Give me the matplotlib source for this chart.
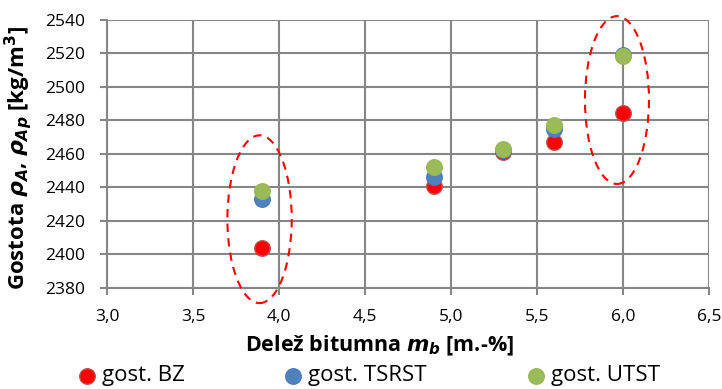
import matplotlib
matplotlib.use("Agg")
import matplotlib.pyplot as plt
from matplotlib.patches import Ellipse

mb = [3.9, 4.9, 5.3, 5.6, 6.0]
gost_bz = [2404, 2441, 2461, 2467, 2484]
gost_tsrst = [2433, 2446, 2462, 2475, 2519]
gost_utst = [2438, 2452, 2463, 2477, 2518]
series_labels = ["gost. BZ", "gost. TSRST", "gost. UTST"]
xticks = [3.0, 3.5, 4.0, 4.5, 5.0, 5.5, 6.0, 6.5]
yticks = [2380, 2400, 2420, 2440, 2460, 2480, 2500, 2520, 2540]
# ellipses: (center x, center y, width, height)
ellipses = [(3.887, 2421, 0.374, 100), (5.965, 2492, 0.372, 100)]

plt.rcParams['font.family'] = ['Open Sans', 'DejaVu Sans']
plt.rcParams['mathtext.fontset'] = 'custom'
plt.rcParams['mathtext.rm'] = 'DejaVu Sans:bold'
plt.rcParams['mathtext.it'] = 'DejaVu Sans:italic:bold'
plt.rcParams['mathtext.bf'] = 'DejaVu Sans:bold'

W, H = 722, 389
L, R, T, B = 107, 709, 19.5, 288
fig = plt.figure(figsize=(W/100, H/100), dpi=100)
ax = fig.add_axes([L/W, 1-B/H, (R-L)/W, (B-T)/H])
aw, ah = R-L, B-T

colors = ['#FF0000', '#4F81BD', '#9BBB59']
edges = ['#C0504D', '#4A7EBB', '#98B954']
for ys, c, e, lab in zip([gost_bz, gost_tsrst, gost_utst], colors, edges, series_labels):
    ax.scatter(mb, ys, s=125, color=c, edgecolors=e, linewidths=1.0, label=lab, zorder=3)

for cx, cy, w, h in ellipses:
    ax.add_patch(Ellipse((cx, cy), w, h, fill=False, edgecolor='#FF0000', lw=1.5,
                         ls=(0, (4, 3)), clip_on=False, zorder=4))

ax.set_xlim(3.0, 6.5)
ax.set_ylim(2380, 2540)
ax.set_xticks(xticks)
ax.set_yticks(yticks)
ax.set_xticklabels([f"{v:.1f}".replace('.', ',') for v in xticks])
ax.set_yticklabels([str(v) for v in yticks])
ax.grid(True, color='#868686', lw=1.5)
ax.set_axisbelow(True)
for s in ['top', 'right']:
    ax.spines[s].set_visible(False)
for s in ['left', 'bottom']:
    ax.spines[s].set_color('#868686')
    ax.spines[s].set_linewidth(1.5)
ax.tick_params(axis='both', direction='out', length=5, width=1.5, color='#868686',
               labelsize=12.5, labelcolor='black')
ax.tick_params(axis='x', pad=10)
ax.tick_params(axis='y', pad=11)

ax.set_xlabel(r"Delež bitumna $m_b$ [m.-%]", fontsize=15.5, fontweight='bold')
ax.xaxis.set_label_coords((380-L)/aw, -(334-B)/ah, transform=ax.transAxes)
ax.set_ylabel(r"Gostota $\rho_A$, $\rho_{Ap}$ [kg/m$^3$]", fontsize=16, fontweight='bold')
ax.yaxis.set_label_coords(-(L-34)/aw, (B-158.5)/ah, transform=ax.transAxes)

fig.legend(loc='center left', bbox_to_anchor=(80/W, 1-376/H), ncol=3, frameon=False,
           fontsize=16, handlelength=0.6, handletextpad=0.37, columnspacing=4.6,
           scatterpoints=1, markerscale=1.0, borderaxespad=0, borderpad=0)

fig.savefig("out.png", dpi=100)
